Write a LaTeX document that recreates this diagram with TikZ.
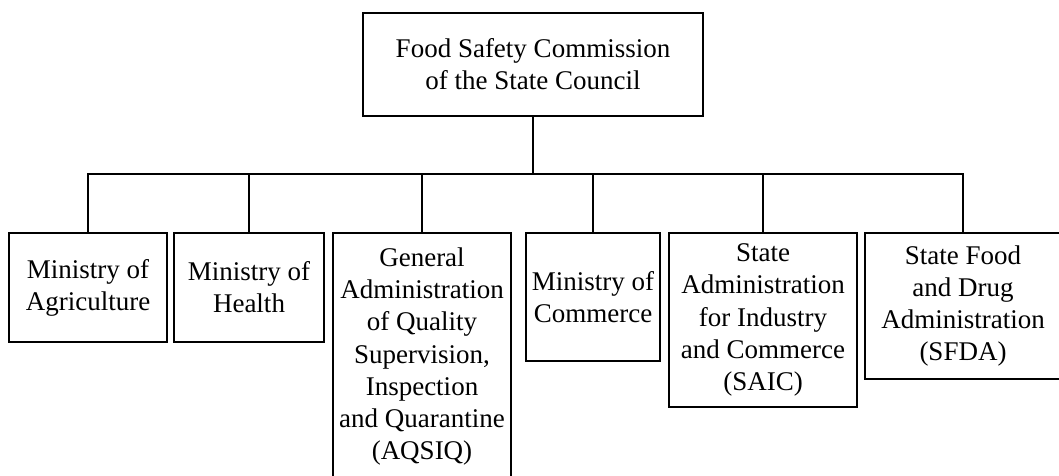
\documentclass[tikz,border=0pt]{standalone}
\usepackage{fontspec}
\setmainfont{Liberation Serif}
\begin{document}
\begin{tikzpicture}[x=1pt,y=-1pt,
  orgbox/.style={draw, line width=1.5pt, inner sep=0pt, align=center,
    font=\fontsize{27}{32.2}\selectfont},
  link/.style={line width=1.5pt}]
\useasboundingbox (0,0) rectangle (1059,475);
\clip (0,0) rectangle (1059,475);
% top
\node[orgbox, minimum width=340, minimum height=103] (fsc) at (533,64.5) {Food Safety Commission\\of the State Council};
% second row
\node[orgbox, minimum width=158, minimum height=109] (moa) at (88,287.5) {Ministry of\\Agriculture};
\node[orgbox, minimum width=150, minimum height=109] (moh) at (249,287.5) {Ministry of\\Health};
\node[orgbox, minimum width=178, minimum height=247] (aqsiq) at (422,356.5) {General\\Administration\\of Quality\\Supervision,\\Inspection\\and Quarantine\\(AQSIQ)};
\node[orgbox, minimum width=134, minimum height=128] (mocom) at (593,297) {Ministry of\\Commerce};
\node[orgbox, minimum width=188, minimum height=174] (saic) at (763,320) {State\\Administration\\for Industry\\and Commerce\\(SAIC)};
\node[orgbox, minimum width=196, minimum height=146] (sfda) at (963,306) {State Food\\and Drug\\Administration\\(SFDA)};
% connectors
\coordinate (bar) at (533,174);
\draw[link] (fsc.south) -- (fsc.south |- bar);
\draw[link] (moa.north) -- (moa.north |- bar) -- (sfda.north |- bar) -- (sfda.north);
\foreach \n in {moh,aqsiq,mocom,saic}
  \draw[link] (\n.north |- bar) -- (\n.north);
\end{tikzpicture}
\end{document}
